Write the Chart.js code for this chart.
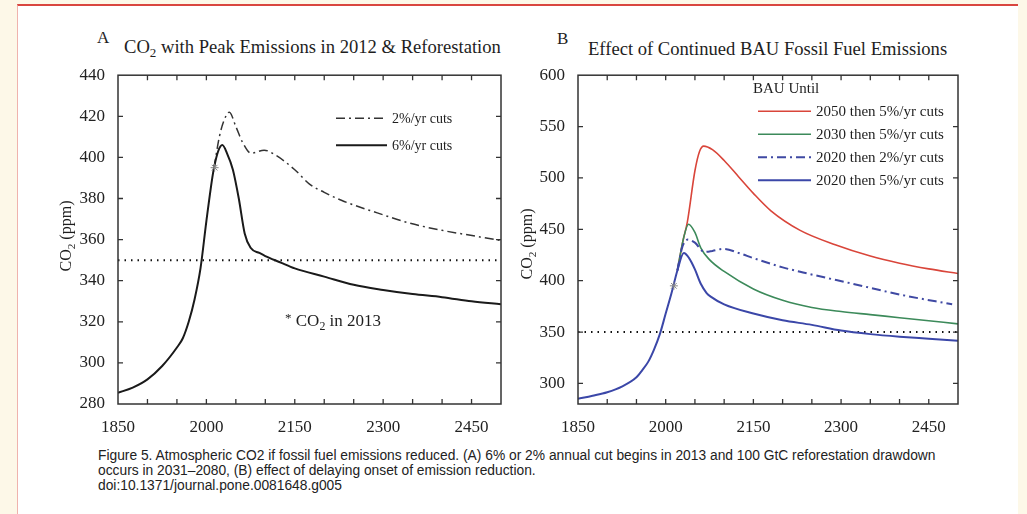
<!DOCTYPE html>
<html lang="en">

<head>
    <meta charset="UTF-8">
    <title>Figure 5</title>
    <style>
        html, body { margin: 0; padding: 0; }
        body { width: 1027px; height: 514px; overflow: hidden; background: #fdf8e8; position: relative;
            font-family: "Liberation Serif", "Times New Roman", serif; color: #1e1e1e; }
        #sheet { position: absolute; left: 17px; top: 4px; width: 1000px; height: 520px; background: #fff;
            border-top: 2px solid #d9463f; border-left: 1px solid #efb3ad; }
        .box { position: absolute; }
        .txt { position: absolute; white-space: nowrap; }
        .title { font-size: 18.6px; }
        .letter { font-size: 17px; }
        .ylab { font-size: 16px; transform: rotate(-90deg); transform-origin: center; }
        sub { font-size: 70%; vertical-align: -4px; line-height: 0; }
        #caption { position: absolute; left: 98px; top: 448px; font-family: "Liberation Sans", sans-serif;
            font-size: 13.8px; line-height: 15px; color: #222; }
    </style>
</head>

<body>
    <div id="sheet"></div>

    <div class="box" style="left:60px; top:60px; width:450px; height:376px;"><canvas id="chartA" width="450" height="376"></canvas></div>
    <div class="box" style="left:520px; top:60px; width:450px; height:376px;"><canvas id="chartB" width="450" height="376"></canvas></div>

    <div class="txt letter" style="left:97px; top:28px;">A</div>
    <div class="txt title" style="left:124px; top:36px;">CO<sub>2</sub> with Peak Emissions in 2012 &amp; Reforestation</div>
    <div class="txt letter" style="left:557px; top:29px;">B</div>
    <div class="txt title" style="left:588px; top:38px;">Effect of Continued BAU Fossil Fuel Emissions</div>

    <div class="txt ylab" style="left:24px; top:227px; width:84px; text-align:center;">CO<sub>2</sub> (ppm)</div>
    <div class="txt ylab" style="left:485px; top:235px; width:84px; text-align:center;">CO<sub>2</sub> (ppm)</div>

    <div class="txt" style="left:285px; top:310px; font-size:17px;"><span style="font-size:13px; vertical-align:4px;">*</span>&nbsp;CO<sub>2</sub> in 2013</div>

    <div id="caption">
        Figure 5. Atmospheric CO2 if fossil fuel emissions reduced. (A) 6% or 2% annual cut begins in 2013 and 100 GtC reforestation drawdown<br>
        occurs in 2031–2080, (B) effect of delaying onset of emission reduction.<br>
        doi:10.1371/journal.pone.0081648.g005
    </div>

    <script src="https://cdn.jsdelivr.net/npm/chart.js@4.4.1/dist/chart.umd.min.js"></script>

    <script>
        // ---- panel A data ----
        var yearsA6 = [1850, 1875, 1900, 1925, 1950, 1960, 1970, 1980, 1990, 2000, 2010, 2013, 2020, 2027, 2035, 2045, 2055, 2065, 2075, 2090, 2100, 2125, 2150, 2200, 2250, 2300, 2350, 2400, 2450, 2500];
        var co2A6 = [285.5, 288, 292, 298.5, 307.5, 312, 320, 331, 346, 369, 390, 395, 403, 406, 402, 394, 380, 363, 356, 353.5, 352, 349, 346, 342, 338, 335.5, 333.5, 332, 330, 328.5];
        var yearsA2 = [2013, 2022, 2030, 2039, 2050, 2062, 2076, 2098, 2118, 2150, 2175, 2200, 2230, 2290, 2345, 2400, 2460, 2500];
        var co2A2 = [395, 410, 418, 422, 415, 407, 402, 403.5, 401, 394, 387, 383, 379, 373, 368, 364.5, 361.5, 359.5];

        // ---- panel B data ----
        var yearsB5_2020 = [1850, 1875, 1900, 1925, 1950, 1960, 1970, 1980, 1990, 2000, 2010, 2020, 2031, 2040, 2050, 2060, 2070, 2077, 2100, 2150, 2200, 2250, 2300, 2350, 2400, 2450, 2500];
        var co2B5_2020 = [285, 288, 291.5, 297, 306, 313, 321, 333, 348, 368, 388, 410, 427, 422, 411, 397, 388, 384.5, 377, 368, 361.5, 357, 351.5, 348, 345.5, 343.5, 341.5];
        var yearsB2_2020 = [2020, 2028, 2038, 2050, 2066, 2080, 2099, 2125, 2150, 2200, 2235, 2320, 2405, 2490];
        var co2B2_2020 = [410, 432, 440, 437, 428, 429, 431, 427, 422, 413, 408, 397, 386, 377];
        var yearsB5_2030 = [2020, 2030, 2039, 2050, 2060, 2074, 2100, 2150, 2200, 2250, 2300, 2350, 2400, 2450, 2500];
        var co2B5_2030 = [410, 440, 455, 447, 432, 421, 409, 392, 381, 374, 370, 367, 364, 361, 358];
        var yearsB5_2050 = [2020, 2030, 2037, 2050, 2058, 2065, 2080, 2100, 2125, 2150, 2180, 2230, 2290, 2350, 2400, 2450, 2500];
        var co2B5_2050 = [410, 440, 457, 507, 526, 531, 527.5, 517, 501, 485, 468, 449, 435, 424, 417, 411.5, 407];

        // reference line and 2013 marker
        var refYears = [1850, 2500];
        var refCO2 = [350, 350];
        var markYearA = [2014], markCO2A = [395];
        var markYearB = [2014], markCO2B = [395];

        // axis ticks
        var xLabelYears = [1850, 2000, 2150, 2300, 2450];
        var yTicksA = [280, 300, 320, 340, 360, 380, 400, 420, 440];
        var yTicksB = [300, 350, 400, 450, 500, 550, 600];

        function pts(xs, ys) {
            return xs.map(function (x, i) { return { x: x, y: ys[i] }; });
        }

        // frame with inward ticks on all four sides
        var framePlugin = {
            id: 'frame',
            afterDatasetsDraw: function (chart) {
                var ctx = chart.ctx, a = chart.chartArea;
                var xs = chart.scales.x, ys = chart.scales.y;
                ctx.save();
                ctx.strokeStyle = '#333';
                ctx.lineWidth = 1.5;
                ctx.strokeRect(a.left, a.top, a.right - a.left, a.bottom - a.top);
                ctx.lineWidth = 1.3;
                ctx.beginPath();
                xs.ticks.forEach(function (t) {
                    var px = xs.getPixelForValue(t.value);
                    if (px <= a.left + 1 || px >= a.right - 1) return;
                    ctx.moveTo(px, a.bottom); ctx.lineTo(px, a.bottom - 5);
                    ctx.moveTo(px, a.top); ctx.lineTo(px, a.top + 5);
                });
                ys.ticks.forEach(function (t) {
                    var py = ys.getPixelForValue(t.value);
                    if (py <= a.top + 1 || py >= a.bottom - 1) return;
                    ctx.moveTo(a.left, py); ctx.lineTo(a.left + 5, py);
                    ctx.moveTo(a.right, py); ctx.lineTo(a.right - 5, py);
                });
                ctx.stroke();
                ctx.restore();
            }
        };

        // line-sample legend drawn inside the plot
        var lineLegendPlugin = {
            id: 'lineLegend',
            afterDatasetsDraw: function (chart, args, opts) {
                var ctx = chart.ctx, a = chart.chartArea;
                var x0 = a.left + opts.x, y = a.top + opts.y;
                ctx.save();
                ctx.font = opts.font;
                ctx.fillStyle = '#1e1e1e';
                ctx.textBaseline = 'middle';
                if (opts.title) {
                    ctx.fillText(opts.title, x0 - 5, a.top + opts.titleY);
                }
                chart.data.datasets.forEach(function (ds) {
                    if (!ds.legendText) return;
                    ctx.save();
                    ctx.strokeStyle = ds.borderColor;
                    ctx.lineWidth = ds.borderWidth;
                    ctx.setLineDash(ds.borderDash || []);
                    ctx.beginPath();
                    ctx.moveTo(x0, y);
                    ctx.lineTo(x0 + opts.lineLen, y);
                    ctx.stroke();
                    ctx.restore();
                    ctx.fillText(ds.legendText, x0 + opts.lineLen + 5, y + 1);
                    y += opts.rowH;
                });
                ctx.restore();
            }
        };

        var tickFont = { family: 'Liberation Serif', size: 17 };

        function xScale() {
            return {
                type: 'linear', min: 1850, max: 2500,
                grid: { display: false },
                border: { display: false },
                afterBuildTicks: function (s) {
                    var t = [];
                    for (var v = 1850; v <= 2500; v += 50) t.push({ value: v });
                    s.ticks = t;
                },
                ticks: {
                    autoSkip: false, maxRotation: 0, padding: 5, color: '#222', font: tickFont,
                    callback: function (v) { return xLabelYears.indexOf(v) >= 0 ? String(v) : ''; }
                },
                afterFit: function (s) { s.height = 32; }
            };
        }

        function yScale(min, max, list) {
            return {
                type: 'linear', min: min, max: max,
                grid: { display: false },
                border: { display: false },
                afterBuildTicks: function (s) {
                    s.ticks = list.map(function (v) { return { value: v }; });
                },
                ticks: { padding: 5, color: '#222', font: tickFont },
                afterFit: function (s) { s.width = 58; }
            };
        }

        var lineBase = { fill: false, pointRadius: 0, cubicInterpolationMode: 'monotone' };

        function line(xs, ys, color, width, dash, order, legendText) {
            return Object.assign({}, lineBase, {
                data: pts(xs, ys), borderColor: color, borderWidth: width,
                borderDash: dash, order: order, legendText: legendText
            });
        }

        function marker(xs, ys) {
            return {
                type: 'scatter', data: pts(xs, ys), pointStyle: 'star', pointRadius: 4,
                borderColor: '#888', borderWidth: 1, backgroundColor: '#888', order: -1
            };
        }

        var common = {
            responsive: false,
            animation: false,
            plugins: { legend: { display: false }, tooltip: { enabled: false } }
        };

        new Chart(document.getElementById('chartA'), {
            type: 'line',
            data: {
                datasets: [
                    line(yearsA2, co2A2, '#333', 1.5, [9, 4, 2, 4], 1, '2%/yr cuts'),
                    line(yearsA6, co2A6, '#1a1a1a', 2, [], 0, '6%/yr cuts'),
                    line(refYears, refCO2, '#111', 2, [1.5, 5], 2, null),
                    marker(markYearA, markCO2A)
                ]
            },
            options: Object.assign({}, common, {
                layout: { padding: { top: 12, right: 9, left: 0, bottom: 0 } },
                scales: { x: xScale(), y: yScale(280, 440, yTicksA) },
                plugins: Object.assign({}, common.plugins, {
                    lineLegend: { x: 218, y: 43, lineLen: 51, rowH: 27, font: '14px "Liberation Serif"' }
                })
            }),
            plugins: [framePlugin, lineLegendPlugin]
        });

        new Chart(document.getElementById('chartB'), {
            type: 'line',
            data: {
                datasets: [
                    line(yearsB5_2050, co2B5_2050, '#d9453a', 1.6, [], 3, '2050 then 5%/yr cuts'),
                    line(yearsB5_2030, co2B5_2030, '#3c8a5a', 1.6, [], 2, '2030 then 5%/yr cuts'),
                    line(yearsB2_2020, co2B2_2020, '#3f49a3', 2, [9, 4, 2, 4], 1, '2020 then 2%/yr cuts'),
                    line(yearsB5_2020, co2B5_2020, '#3b47a8', 2, [], 0, '2020 then 5%/yr cuts'),
                    line(refYears, refCO2, '#111', 2, [1.5, 5], 4, null),
                    marker(markYearB, markCO2B)
                ]
            },
            options: Object.assign({}, common, {
                layout: { padding: { top: 12, right: 12, left: 0, bottom: 0 } },
                scales: { x: xScale(), y: yScale(280, 600, yTicksB) },
                plugins: Object.assign({}, common.plugins, {
                    lineLegend: { x: 180, y: 36, lineLen: 53, rowH: 23, font: '15px "Liberation Serif"', title: 'BAU Until', titleY: 14 }
                })
            }),
            plugins: [framePlugin, lineLegendPlugin]
        });
    </script>
</body>

</html>
